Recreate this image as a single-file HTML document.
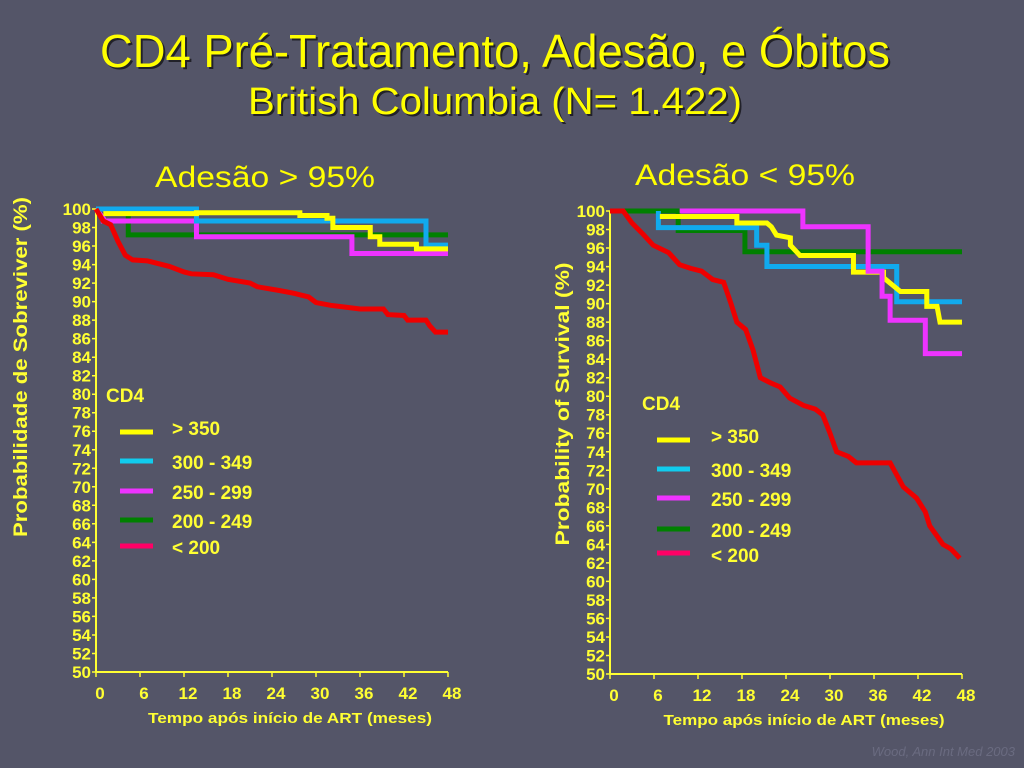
<!DOCTYPE html>
<html><head><meta charset="utf-8"><style>
html,body{margin:0;padding:0;background:#545568;}
svg{display:block;font-family:"Liberation Sans",Arial,sans-serif;}
.t{fill:#ffff33;font-weight:bold;font-size:17px;}
.c{fill:none;stroke-width:5;vector-effect:non-scaling-stroke;stroke-linejoin:miter;}
</style></head><body>
<svg width="1024" height="768" viewBox="0 0 1024 768">
<rect width="1024" height="768" fill="#545568"/>
<g fill="#ffff00">
<text x="102" y="69" font-size="46" fill="#000" opacity="0.6" textLength="790" lengthAdjust="spacingAndGlyphs">CD4 Pré-Tratamento, Adesão, e Óbitos</text>
<text x="100" y="67" font-size="46" textLength="790" lengthAdjust="spacingAndGlyphs">CD4 Pré-Tratamento, Adesão, e Óbitos</text>
<text x="250" y="116" font-size="38" fill="#000" opacity="0.6" textLength="494" lengthAdjust="spacingAndGlyphs">British Columbia (N= 1.422)</text>
<text x="248" y="114" font-size="38" textLength="494" lengthAdjust="spacingAndGlyphs">British Columbia (N= 1.422)</text>
<text x="155" y="187" font-size="30" textLength="220" lengthAdjust="spacingAndGlyphs">Adesão &gt; 95%</text>
<text x="635" y="185" font-size="30" textLength="220" lengthAdjust="spacingAndGlyphs">Adesão &lt; 95%</text>
</g>
<text class="t" transform="translate(27,367) rotate(-90)" text-anchor="middle" style="font-size:19px" textLength="340" lengthAdjust="spacingAndGlyphs">Probabilidade de Sobreviver (%)</text>
<text class="t" transform="translate(569,404) rotate(-90)" text-anchor="middle" style="font-size:19px" textLength="283" lengthAdjust="spacingAndGlyphs">Probability of Survival (%)</text>

<!-- LEFT CHART -->
<g transform="translate(96,209)">
<line x1="0" y1="0" x2="0" y2="463" stroke="#ffff33" stroke-width="2"/>
<line x1="0" y1="463" x2="352" y2="463" stroke="#ffff33" stroke-width="2"/>
<g stroke="#ffff33" stroke-width="1.5">
<path d="M-4 0H0M-4 18.5H0M-4 37H0M-4 55.6H0M-4 74.1H0M-4 92.6H0M-4 111.1H0M-4 129.6H0M-4 148.2H0M-4 166.7H0M-4 185.2H0M-4 203.7H0M-4 222.2H0M-4 240.8H0M-4 259.3H0M-4 277.8H0M-4 296.3H0M-4 314.8H0M-4 333.4H0M-4 351.9H0M-4 370.4H0M-4 388.9H0M-4 407.4H0M-4 426H0M-4 444.5H0M-4 463H0"/>
<path d="M0 463v5M44 463v5M88 463v5M132 463v5M176 463v5M220 463v5M264 463v5M308 463v5M352 463v5"/>
</g>
<g class="t" text-anchor="end">
<text x="-5" y="6">100</text><text x="-5" y="24.5">98</text><text x="-5" y="43">96</text><text x="-5" y="61.6">94</text><text x="-5" y="80.1">92</text><text x="-5" y="98.6">90</text><text x="-5" y="117.1">88</text><text x="-5" y="135.6">86</text><text x="-5" y="154.2">84</text><text x="-5" y="172.7">82</text><text x="-5" y="191.2">80</text><text x="-5" y="209.7">78</text><text x="-5" y="228.2">76</text><text x="-5" y="246.8">74</text><text x="-5" y="265.3">72</text><text x="-5" y="283.8">70</text><text x="-5" y="302.3">68</text><text x="-5" y="320.8">66</text><text x="-5" y="339.4">64</text><text x="-5" y="357.9">62</text><text x="-5" y="376.4">60</text><text x="-5" y="394.9">58</text><text x="-5" y="413.4">56</text><text x="-5" y="432">54</text><text x="-5" y="450.5">52</text><text x="-5" y="469">50</text>
</g>
<g class="t" text-anchor="middle">
<text x="4" y="490">0</text><text x="48" y="490">6</text><text x="92" y="490">12</text><text x="136" y="490">18</text><text x="180" y="490">24</text><text x="224" y="490">30</text><text x="268" y="490">36</text><text x="312" y="490">42</text><text x="356" y="490">48</text>
<text x="194" y="514" style="font-size:15px" textLength="284" lengthAdjust="spacingAndGlyphs">Tempo após início de ART (meses)</text>
</g>
</g>
<g transform="translate(96,1135) scale(7.333,-9.26)">
<polyline class="c" stroke="#008000" points="0,100 4.4,100 4.4,97.2 48,97.2"/>
<polyline class="c" stroke="#ee33ff" points="0,100 1,99 1,98.7 13.7,98.7 13.7,97 34.9,97 34.9,95.2 48,95.2"/>
<polyline class="c" stroke="#11aaee" points="0,100 13.7,100 13.7,98.7 45,98.7 45,96.1 48,96.1"/>
<polyline class="c" stroke="#ffff00" points="1,99.5 13.7,99.5 13.7,99.6 27.8,99.6 27.8,99.3 31.5,99.3 31.5,99 32.3,99 32.3,98 37.4,98 37.4,97 38.7,97 38.7,96.2 43.7,96.2 43.7,95.7 48,95.7"/>
<polyline class="c" stroke="#ee0000" points="0,100 1,98.7 2,98.3 3,96.5 4,95 5,94.5 7,94.4 8,94.2 10,93.8 12,93.2 13,93 16,92.9 18,92.4 21,92 22,91.6 25,91.2 27,90.9 29,90.5 30,89.9 32,89.6 34,89.4 36,89.2 39.2,89.2 39.8,88.6 42,88.5 42.5,88 45,88 45.5,87.4 46.3,86.7 48,86.7"/>
</g>

<!-- RIGHT CHART -->
<g transform="translate(610,211)">
<line x1="0" y1="0" x2="0" y2="463" stroke="#ffff33" stroke-width="2"/>
<line x1="0" y1="463" x2="352" y2="463" stroke="#ffff33" stroke-width="2"/>
<g stroke="#ffff33" stroke-width="1.5">
<path d="M-4 0H0M-4 18.5H0M-4 37H0M-4 55.6H0M-4 74.1H0M-4 92.6H0M-4 111.1H0M-4 129.6H0M-4 148.2H0M-4 166.7H0M-4 185.2H0M-4 203.7H0M-4 222.2H0M-4 240.8H0M-4 259.3H0M-4 277.8H0M-4 296.3H0M-4 314.8H0M-4 333.4H0M-4 351.9H0M-4 370.4H0M-4 388.9H0M-4 407.4H0M-4 426H0M-4 444.5H0M-4 463H0"/>
<path d="M0 463v5M44 463v5M88 463v5M132 463v5M176 463v5M220 463v5M264 463v5M308 463v5M352 463v5"/>
</g>
<g class="t" text-anchor="end">
<text x="-5" y="6">100</text><text x="-5" y="24.5">98</text><text x="-5" y="43">96</text><text x="-5" y="61.6">94</text><text x="-5" y="80.1">92</text><text x="-5" y="98.6">90</text><text x="-5" y="117.1">88</text><text x="-5" y="135.6">86</text><text x="-5" y="154.2">84</text><text x="-5" y="172.7">82</text><text x="-5" y="191.2">80</text><text x="-5" y="209.7">78</text><text x="-5" y="228.2">76</text><text x="-5" y="246.8">74</text><text x="-5" y="265.3">72</text><text x="-5" y="283.8">70</text><text x="-5" y="302.3">68</text><text x="-5" y="320.8">66</text><text x="-5" y="339.4">64</text><text x="-5" y="357.9">62</text><text x="-5" y="376.4">60</text><text x="-5" y="394.9">58</text><text x="-5" y="413.4">56</text><text x="-5" y="432">54</text><text x="-5" y="450.5">52</text><text x="-5" y="469">50</text>
</g>
<g class="t" text-anchor="middle">
<text x="4" y="490">0</text><text x="48" y="490">6</text><text x="92" y="490">12</text><text x="136" y="490">18</text><text x="180" y="490">24</text><text x="224" y="490">30</text><text x="268" y="490">36</text><text x="312" y="490">42</text><text x="356" y="490">48</text>
<text x="194" y="514" style="font-size:15px" textLength="281" lengthAdjust="spacingAndGlyphs">Tempo após início de ART (meses)</text>
</g>
</g>
<g transform="translate(610,1137) scale(7.333,-9.26)">
<polyline class="c" stroke="#008000" points="0,100 9.3,100 9.3,97.9 18.4,97.9 18.4,95.6 48,95.6"/>
<polyline class="c" stroke="#11aaee" points="6.6,100 6.6,98.2 20,98.2 20,96.3 21.4,96.3 21.4,94 39.1,94 39.1,90.2 48,90.2"/>
<polyline class="c" stroke="#ffff00" points="6.8,99.4 17.3,99.4 17.3,98.7 21.4,98.7 22,98.3 22.7,97.4 24.6,97.1 24.6,96.3 25.9,95.2 33.2,95.2 33.2,93.4 37.3,93.4 37.3,92.8 39.6,91.3 43.2,91.3 43.2,89.7 44.6,89.7 45,88 48,88"/>
<polyline class="c" stroke="#ee33ff" points="9.5,100 26.3,100 26.3,98.3 35.2,98.3 35.2,93.5 37.1,93.5 37.1,90.8 38.2,90.8 38.2,88.2 43,88.2 43,84.6 48,84.6"/>
<polyline class="c" stroke="#ee0000" points="0,100 1.8,100 3,98.7 4.5,97.5 5.9,96.3 8,95.5 9.5,94.2 11,93.8 12.5,93.5 14,92.6 15.5,92.3 16.5,90 17.3,88 18.5,87.2 19.5,85 20.5,82 22,81.4 23.2,81 24.5,79.8 26.4,79 28,78.6 29,78 30,76 30.9,74 32.5,73.5 33.6,72.8 38.2,72.8 40,70.2 41.8,69 43,67.5 43.6,66 45.4,64 46.5,63.5 47.7,62.5"/>
</g>

<!-- LEGENDS -->
<g class="t" style="font-size:19px">
<text x="106" y="402">CD4</text>
<text x="172" y="435">&gt; 350</text>
<text x="172" y="469">300 - 349</text>
<text x="172" y="499">250 - 299</text>
<text x="172" y="528">200 - 249</text>
<text x="172" y="554">&lt; 200</text>
<text x="642" y="410">CD4</text>
<text x="711" y="443">&gt; 350</text>
<text x="711" y="477">300 - 349</text>
<text x="711" y="506">250 - 299</text>
<text x="711" y="537">200 - 249</text>
<text x="711" y="562">&lt; 200</text>
</g>
<g stroke-width="5">
<line x1="120" x2="153" y1="432" y2="432" stroke="#ffff00"/>
<line x1="120" x2="153" y1="461" y2="461" stroke="#11ccee"/>
<line x1="120" x2="153" y1="491" y2="491" stroke="#ee33ff"/>
<line x1="120" x2="153" y1="520" y2="520" stroke="#008000"/>
<line x1="120" x2="153" y1="546" y2="546" stroke="#ff0066"/>
<line x1="657" x2="690" y1="440" y2="440" stroke="#ffff00"/>
<line x1="657" x2="690" y1="469" y2="469" stroke="#11ccee"/>
<line x1="657" x2="690" y1="498" y2="498" stroke="#ee33ff"/>
<line x1="657" x2="690" y1="529" y2="529" stroke="#008000"/>
<line x1="657" x2="690" y1="553" y2="553" stroke="#ff0066"/>
</g>
<text x="1015" y="756" text-anchor="end" font-size="13" fill="#6a6b80" font-style="italic">Wood, Ann Int Med 2003</text>
</svg>
</body></html>
